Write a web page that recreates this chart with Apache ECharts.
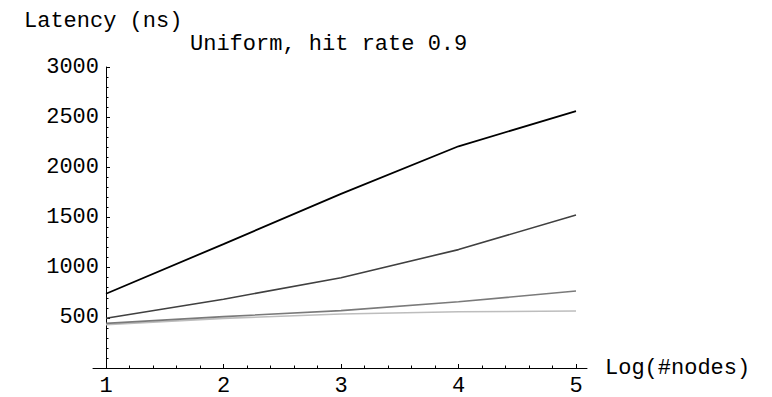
<!DOCTYPE html>
<html>
<head>
<meta charset="utf-8">
<script src="https://cdn.jsdelivr.net/npm/echarts@6/dist/echarts.min.js"></script>
<style>
html,body{margin:0;padding:0;background:#fff;}
#chart{width:772px;height:397px;}
</style>
</head>
<body>
<div id="chart"></div>
<script>
const xValues = [1, 2, 3, 4, 5];
const seriesBlack = [740, 1235, 1735, 2210, 2560];
const seriesDark = [495, 685, 900, 1180, 1525];
const seriesMid = [445, 512, 572, 660, 767];
const seriesLight = [432, 495, 538, 560, 568];
const yTicks = [500, 1000, 1500, 2000, 2500, 3000];
const titleText = 'Uniform, hit rate 0.9';
const yName = 'Latency (ns)';
const xName = 'Log(#nodes)';

const FONT = 'Liberation Mono';
const FS = 22;
const pairs = arr => xValues.map((x, i) => [x, arr[i]]);

const chart = echarts.init(document.getElementById('chart'), null, {renderer: 'svg'});
const lineSeries = (name, arr, color, w) => ({
  name, type: 'line', xAxisIndex: 0, yAxisIndex: 0,
  data: pairs(arr), showSymbol: false, symbol: 'none',
  lineStyle: {color, width: w}, itemStyle: {color}
});
chart.setOption({
  animation: false,
  backgroundColor: '#fff',
  textStyle: {fontFamily: FONT, color: '#000'},
  title: [
    {text: yName, left: 24, top: 10, padding: 0,
     textStyle: {fontFamily: FONT, fontSize: FS, fontWeight: 'normal', color: '#000'}},
    {text: titleText, left: 190, top: 33, padding: 0,
     textStyle: {fontFamily: FONT, fontSize: FS, fontWeight: 'normal', color: '#000'}}
  ],
  grid: [
    {left: 106, right: 196, top: 67, bottom: 29, containLabel: false},
    {left: 93, right: 185, top: 67, bottom: 29, containLabel: false}
  ],
  xAxis: [
    {gridIndex: 0, type: 'value', min: 1, max: 5, interval: 1,
     axisLine: {show: false},
     axisTick: {show: true, inside: true, length: 4, lineStyle: {color: '#000'}},
     minorTick: {show: true, splitNumber: 5, length: 2.5, lineStyle: {color: '#000'}},
     splitLine: {show: false},
     axisLabel: {margin: 10, lineHeight: 16, fontFamily: FONT, fontSize: FS, color: '#000'}},
    {gridIndex: 1, type: 'value', min: 0.89, max: 5.09,
     axisLine: {show: true, onZero: false, lineStyle: {color: '#000', width: 1}},
     axisTick: {show: false}, axisLabel: {show: false}, splitLine: {show: false},
     name: xName, nameLocation: 'end', nameGap: 18,
     nameTextStyle: {fontFamily: FONT, fontSize: FS, color: '#000', verticalAlign: 'middle'}}
  ],
  yAxis: [
    {gridIndex: 0, type: 'value', min: 0, max: 3000, interval: 500,
     axisLine: {show: true, onZero: false, lineStyle: {color: '#000', width: 1}},
     axisTick: {show: true, inside: true, length: 4, lineStyle: {color: '#000'}},
     minorTick: {show: true, splitNumber: 5, length: 2.5, lineStyle: {color: '#000'}},
     splitLine: {show: false},
     axisLabel: {margin: 7, fontFamily: FONT, fontSize: FS, color: '#000',
       formatter: v => (yTicks.indexOf(v) >= 0 ? String(v) : '')}},
    {gridIndex: 1, type: 'value', min: 0, max: 3000, show: false}
  ],
  series: [
    lineSeries('light', seriesLight, '#bdbdbd', 1.6),
    lineSeries('mid', seriesMid, '#7a7a7a', 1.6),
    lineSeries('dark', seriesDark, '#404040', 1.6),
    lineSeries('black', seriesBlack, '#000000', 1.8)
  ]
});
</script>
</body>
</html>
